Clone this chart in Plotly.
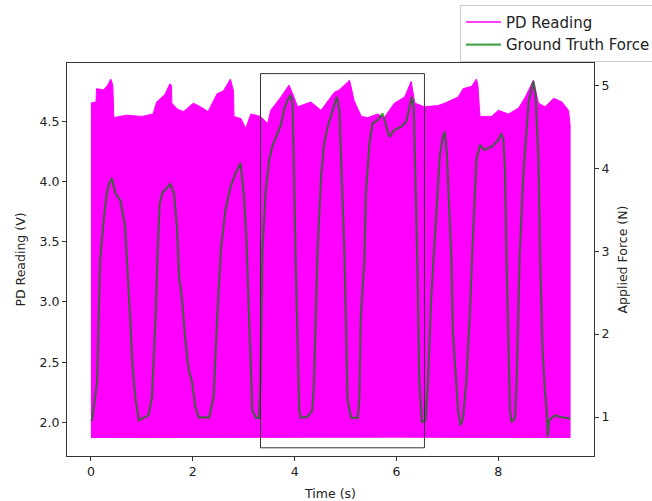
import plotly.graph_objects as go

# PD reading: upper envelope of the fast photodiode signal (time s, volts)
pd_t = [0.00, 0.10, 0.11, 0.25, 0.33, 0.39, 0.43, 0.45, 0.70, 1.00, 1.22, 1.29, 1.45,
        1.55, 1.58, 1.59, 1.70, 1.82, 2.01, 2.15, 2.30, 2.48, 2.60, 2.74, 2.80, 2.81,
        2.95, 3.04, 3.14, 3.33, 3.47, 3.53, 3.73, 3.89, 3.96, 4.06, 4.32, 4.52, 4.78,
        4.88, 5.08, 5.17, 5.31, 5.44, 5.63, 5.76, 5.96, 6.16, 6.29, 6.36, 6.55, 6.82,
        6.95, 7.21, 7.31, 7.48, 7.57, 7.60, 7.64, 7.87, 8.00, 8.20, 8.40, 8.53, 8.69,
        8.79, 8.92, 9.09, 9.25, 9.38, 9.41]
pd_high = [4.65, 4.66, 4.77, 4.76, 4.80, 4.85, 4.80, 4.53, 4.55, 4.54, 4.56, 4.66, 4.72,
           4.81, 4.80, 4.65, 4.60, 4.58, 4.65, 4.62, 4.58, 4.73, 4.75, 4.85, 4.75, 4.54,
           4.52, 4.44, 4.56, 4.54, 4.48, 4.59, 4.70, 4.80, 4.73, 4.62, 4.66, 4.59, 4.74,
           4.76, 4.84, 4.67, 4.54, 4.53, 4.56, 4.53, 4.65, 4.70, 4.83, 4.65, 4.62, 4.63,
           4.65, 4.70, 4.77, 4.79, 4.85, 4.80, 4.54, 4.54, 4.59, 4.56, 4.61, 4.70, 4.84,
           4.65, 4.62, 4.69, 4.66, 4.59, 4.47]

# PD reading: lower envelope
pd_low_t = [0.00, 3.00, 6.00, 9.41]
pd_low = [1.875, 1.875, 1.878, 1.875]

# Ground truth force (time s, newtons)
force_t = [0.00, 0.02, 0.12, 0.18, 0.25, 0.31, 0.36, 0.41, 0.48, 0.58, 0.67, 0.72, 0.77,
           0.81, 0.87, 0.94, 1.03, 1.13, 1.20, 1.27, 1.31, 1.35, 1.40, 1.50, 1.56, 1.63,
           1.69, 1.73, 1.79, 1.86, 1.92, 1.99, 2.05, 2.12, 2.22, 2.32, 2.41, 2.48, 2.55,
           2.64, 2.74, 2.84, 2.94, 3.00, 3.05, 3.10, 3.17, 3.24, 3.30, 3.33, 3.37, 3.43,
           3.50, 3.56, 3.66, 3.73, 3.79, 3.86, 3.92, 3.96, 3.99, 4.02, 4.09, 4.12, 4.25,
           4.35, 4.38, 4.45, 4.52, 4.58, 4.65, 4.71, 4.78, 4.83, 4.88, 4.94, 4.98, 5.04,
           5.11, 5.24, 5.27, 5.30, 5.37, 5.40, 5.47, 5.53, 5.63, 5.73, 5.80, 5.86, 5.96,
           6.09, 6.19, 6.26, 6.30, 6.34, 6.39, 6.41, 6.45, 6.50, 6.57, 6.62, 6.68, 6.74,
           6.82, 6.85, 6.91, 6.95, 6.99, 7.04, 7.08, 7.11, 7.21, 7.26, 7.31, 7.37, 7.44,
           7.49, 7.53, 7.57, 7.64, 7.73, 7.87, 8.00, 8.06, 8.10, 8.13, 8.16, 8.23, 8.26,
           8.33, 8.36, 8.42, 8.49, 8.56, 8.60, 8.65, 8.69, 8.73, 8.79, 8.82, 8.87, 8.92,
           8.95, 8.97, 9.00, 9.05, 9.11, 9.24, 9.41]
force_n = [0.98, 0.96, 1.41, 2.89, 3.37, 3.70, 3.82, 3.88, 3.70, 3.61, 3.30, 2.80, 2.20,
           1.69, 1.24, 0.96, 0.99, 1.02, 1.24, 2.21, 3.00, 3.57, 3.70, 3.77, 3.81, 3.70,
           3.29, 2.70, 2.41, 1.89, 1.57, 1.41, 1.12, 0.99, 1.00, 0.99, 1.24, 2.21, 3.00,
           3.49, 3.77, 3.94, 4.06, 3.70, 3.20, 2.30, 1.08, 0.99, 0.99, 1.41, 3.05, 3.70,
           4.10, 4.26, 4.42, 4.52, 4.70, 4.82, 4.88, 4.78, 3.90, 2.89, 1.08, 0.99, 1.00,
           1.08, 1.41, 3.00, 3.90, 4.30, 4.50, 4.62, 4.78, 4.86, 4.70, 3.70, 2.95, 1.20,
           0.99, 0.99, 1.20, 2.21, 2.89, 3.70, 4.30, 4.54, 4.58, 4.66, 4.52, 4.38, 4.46,
           4.50, 4.56, 4.74, 4.86, 4.74, 3.50, 2.89, 1.41, 0.94, 0.96, 1.41, 2.41, 3.00,
           3.90, 4.14, 4.38, 4.44, 4.18, 3.50, 2.89, 2.01, 1.08, 0.90, 1.00, 1.41, 2.21,
           3.00, 3.57, 4.10, 4.28, 4.22, 4.26, 4.34, 4.42, 4.34, 4.02, 2.95, 1.08, 0.94,
           0.99, 1.41, 2.95, 3.90, 4.50, 4.82, 4.94, 5.05, 4.90, 4.10, 2.95, 1.81, 1.29,
           1.08, 0.76, 0.96, 0.99, 1.02, 1.00, 0.98]

# Highlighted window (time s, volts)
box_t = [3.33, 6.55]
box_v = [1.79, 4.895]

FONT = "DejaVu Sans"
TXT = "#222222"
AX = "#333333"

fig = go.Figure()

# PD band drawn as a closed polygon between its envelopes
poly_x = pd_t + pd_low_t[::-1]
poly_y = pd_high + pd_low[::-1]
fig.add_trace(go.Scatter(
    x=poly_x, y=poly_y, mode="lines", fill="toself",
    fillcolor="#ff00ff", line=dict(color="#ff00ff", width=1),
    showlegend=False, hoverinfo="skip"))

# Legend entry for the PD reading (line swatch)
fig.add_trace(go.Scatter(
    x=[None], y=[None], mode="lines", name="PD Reading",
    line=dict(color="#ff00ff", width=1.5)))

fig.add_trace(go.Scatter(
    x=force_t, y=force_n, yaxis="y2", mode="lines", name="Ground Truth Force",
    line=dict(color="#008000", width=2.2), opacity=0.7))

fig.add_shape(type="rect", xref="x", yref="y",
              x0=box_t[0], x1=box_t[1], y0=box_v[0], y1=box_v[1],
              line=dict(color="#333333", width=1), fillcolor="rgba(0,0,0,0)")

axis_common = dict(
    showline=True, linecolor=AX, linewidth=1, ticks="outside", ticklen=4,
    tickcolor=AX, showgrid=False, zeroline=False,
    tickfont=dict(family=FONT, size=12.5, color=TXT))

title_font = dict(family=FONT, size=12.5, color=TXT)

fig.update_layout(
    width=652, height=501,
    margin=dict(l=67, r=58, t=63, b=45, autoexpand=False),
    paper_bgcolor="white", plot_bgcolor="white",
    font=dict(family=FONT, size=12.5, color=TXT),
    xaxis=dict(range=[-0.47, 9.88], tickvals=[0, 2, 4, 6, 8], mirror=True,
               title=dict(text="Time (s)", font=title_font, standoff=14),
               **axis_common),
    yaxis=dict(range=[1.722, 4.983], tickvals=[2.0, 2.5, 3.0, 3.5, 4.0, 4.5],
               ticktext=["2.0", "2.5", "3.0", "3.5", "4.0", "4.5"], mirror=True,
               title=dict(text="PD Reading (V)", font=title_font, standoff=11),
               **axis_common),
    yaxis2=dict(range=[0.53, 5.269], tickvals=[1, 2, 3, 4, 5], overlaying="y",
                side="right",
                title=dict(text="Applied Force (N)", font=title_font, standoff=9),
                **axis_common),
    legend=dict(x=0.7457, y=1.148, xanchor="left", yanchor="top",
                bgcolor="white", bordercolor="#cccccc", borderwidth=1,
                font=dict(family=FONT, size=15, color=TXT),
                itemwidth=35, tracegroupgap=0),
)

fig.write_html("out.html")
